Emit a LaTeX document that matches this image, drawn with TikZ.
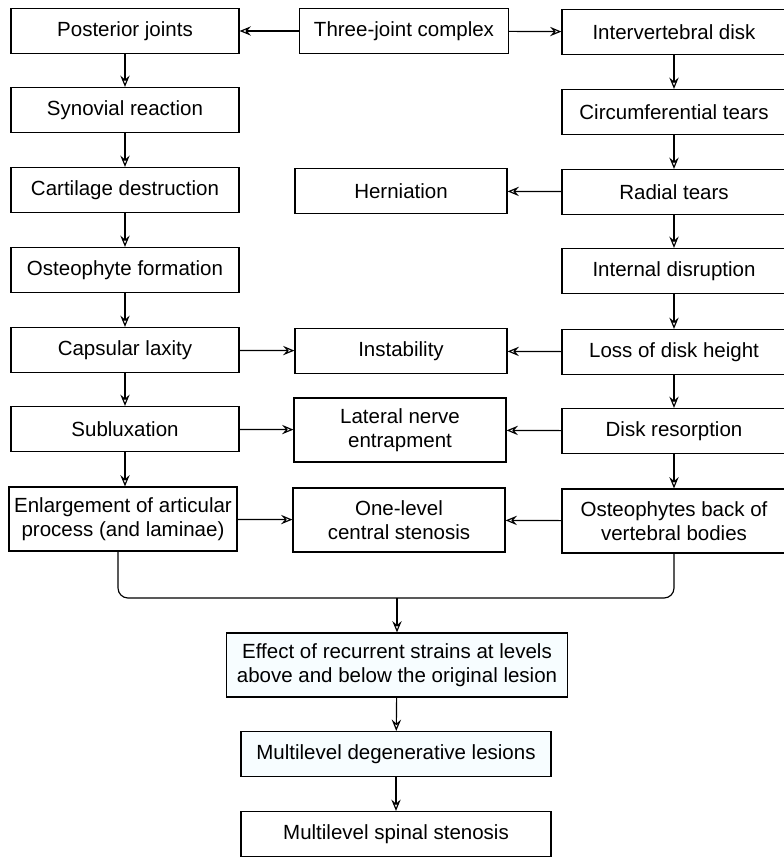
\documentclass[tikz,border=0pt]{standalone}
\usepackage{fontspec}
\setmainfont{Liberation Sans}
\usepackage{tikz}
\usetikzlibrary{arrows.meta}

\tikzset{
  box/.style={draw, line width=1pt, align=center, inner sep=1pt,
    minimum height=13.5mm, font=\fontsize{17.5}{21}\selectfont},
  tall/.style={minimum height=19.2mm},
  lbox/.style={box, minimum width=68.4mm},
  mbox/.style={box, minimum width=63.6mm},
  rbox/.style={box, minimum width=67.2mm},
  tint/.style={fill=cyan!3},
  flow/.style={-{Stealth[open, length=3.4mm, width=2.8mm, inset=1.2mm]}, line width=1pt}
}

\begin{document}
\begin{tikzpicture}[x=0.3mm, y=-0.3mm]
    \useasboundingbox (0,0) rectangle (784,858);
    % left column
    \node[lbox] (pj) at (125,31) {Posterior joints};
    \node[lbox] (sr) at (125,110) {Synovial reaction};
    \node[lbox] (cd) at (125,190) {Cartilage destruction};
    \node[lbox] (of) at (125,270) {Osteophyte formation};
    \node[lbox] (cl) at (125,350) {Capsular laxity};
    \node[lbox] (sx) at (125,429) {Subluxation};
    \node[lbox, tall] (enl) at (123,519) {Enlargement of articular\\process (and laminae)};
    % middle column
    \node[box, minimum width=62.7mm] (tjc) at (404,31) {Three-joint complex};
    \node[mbox] (her) at (401,191) {Herniation};
    \node[mbox] (ins) at (401,351) {Instability};
    \node[mbox, tall] (lne) at (400,430) {Lateral nerve\\entrapment};
    \node[mbox, tall] (ols) at (399,520) {One-level\\central stenosis};
    % right column
    \node[rbox] (ivd) at (674,32) {Intervertebral disk};
    \node[rbox] (ct) at (674,112) {Circumferential tears};
    \node[rbox] (rt) at (674,192) {Radial tears};
    \node[rbox] (id) at (674,271) {Internal disruption};
    \node[rbox] (ldh) at (674,352) {Loss of disk height};
    \node[rbox] (dr) at (674,431) {Disk resorption};
    \node[rbox, tall] (ob) at (674,521) {Osteophytes back of\\vertebral bodies};
    % bottom
    \coordinate (mrg) at (397,598);
    \node[box, tint, tall, minimum width=102.3mm] (eff) at (397,665) {Effect of recurrent strains at levels\\above and below the original lesion};
    \node[box, tint, minimum width=93mm] (mdl) at (396,754) {Multilevel degenerative lesions};
    \node[box, minimum width=93mm] (mss) at (396,834) {Multilevel spinal stenosis};

    \draw[flow] (tjc) -- (pj);
    \draw[flow] (tjc) -- (ivd);
    \foreach \a/\b in {pj/sr, sr/cd, cd/of, of/cl, cl/sx,
        ivd/ct, ct/rt, rt/id, id/ldh, ldh/dr, dr/ob, eff/mdl, mdl/mss}
      \draw[flow] (\a) -- (\b);
    \draw[flow] (sx.south) -- (sx.south |- enl.north);
    \draw[flow] (rt) -- (her);
    \draw[flow] (cl) -- (ins);
    \draw[flow] (ldh) -- (ins);
    \draw[flow] (sx) -- (lne);
    \draw[flow] (dr) -- (lne);
    \draw[flow] (enl) -- (ols);
    \draw[flow] (ob) -- (ols);
    \draw[line width=1pt, rounded corners=3mm] ([xshift=-1.5mm]enl.south) |- (mrg) -| (ob.south);
    \draw[flow] (mrg) -- (eff);
\end{tikzpicture}
\end{document}
